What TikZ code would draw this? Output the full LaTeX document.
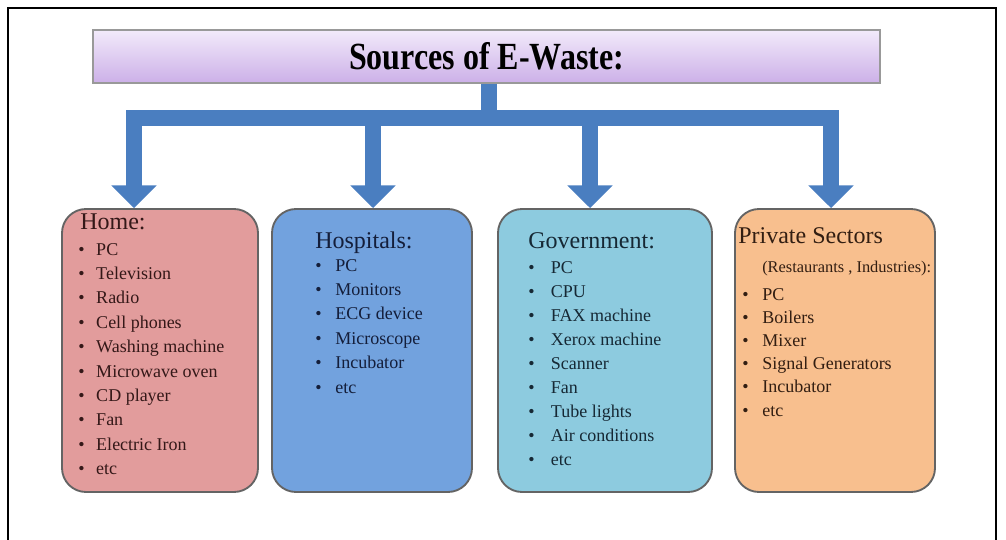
\documentclass[tikz,border=0pt]{standalone}
\usepackage{fontspec}
\setmainfont{Liberation Serif}
\usetikzlibrary{positioning,arrows.meta,fit}
\definecolor{pipecolor}{RGB}{74,126,192}
\definecolor{homefill}{RGB}{226,156,156}
\definecolor{hospfill}{RGB}{114,162,222}
\definecolor{govfill}{RGB}{141,203,223}
\definecolor{privfill}{RGB}{248,191,142}
\definecolor{edgecolor}{RGB}{100,100,100}
\definecolor{hometext}{RGB}{52,24,24}
\definecolor{hosptext}{RGB}{20,30,58}
\definecolor{govtext}{RGB}{22,40,52}
\definecolor{privtext}{RGB}{50,30,18}

\begin{document}
\begin{tikzpicture}[x=0.75pt, y=-0.75pt,
    srcbox/.style={rectangle, draw=edgecolor, line width=1.4pt, rounded corners=18pt, inner sep=0pt},
    titlebox/.style={rectangle, draw=black!40, line width=1.2pt, inner sep=0pt,
        top color={rgb,255:red,242;green,234;blue,250}, bottom color={rgb,255:red,204;green,176;blue,232}},
    pipe/.style={draw=pipecolor, line width=11.5pt},
    flow/.style={pipe, -{Triangle[width=33pt,length=17pt]}},
    head/.style={font=\fontsize{18}{20}\selectfont, anchor=base west, inner sep=0pt},
    entry/.style={font=\fontsize{13.5}{16}\selectfont, anchor=base west, inner sep=0pt}
]
\useasboundingbox (0,0) rectangle (1006,539);
\draw[line width=2pt] (8,560) -- (8,8) -- (996,8) -- (996,560);

% title
\node[titlebox, fit={(93,30) (880,83)}] (title) {};
\node[font=\fontsize{24}{28}\selectfont\bfseries] (title-text) at (title.center) {\scalebox{1}[1.2]{Sources of E-Waste:}};

% source boxes
\node[srcbox, fill=homefill, fit={(62,209) (258,492)}] (home) {};
\node[srcbox, fill=hospfill, fit={(272,209) (472,492)}] (hosp) {};
\node[srcbox, fill=govfill, fit={(498,209) (712,492)}] (gov) {};
\node[srcbox, fill=privfill, fit={(735,209) (935,492)}] (priv) {};

% connectors
\coordinate (hub) at (489,118);
\draw[pipe] (title.south -| hub) -- (hub);
\draw[flow] (hub) -| (home.north -| 134,0);
\draw[flow] (hub) -| (hosp.north -| 373,0);
\draw[flow] (hub) -| (gov.north -| 590,0);
\draw[flow] (hub) -| (priv.north -| 831,0);

% Home
\node[head, text=hometext] (home-head) at (80,229) {Home:};
\foreach \name [count=\i] in {PC,Television,Radio,Cell phones,Washing machine,Microwave oven,CD player,Fan,Electric Iron,etc}
  \node[entry, text=hometext] (home-\i) at (78,{255+24.4*(\i-1)}) {\makebox[13.5pt][l]{\textbullet}\name};

% Hospitals
\node[head, text=hosptext] (hosp-head) at (315,248) {Hospitals:};
\foreach \name [count=\i] in {PC,Monitors,ECG device,Microscope,Incubator,etc}
  \node[entry, text=hosptext] (hosp-\i) at (315,{271+24.4*(\i-1)}) {\makebox[15pt][l]{\textbullet}\name};

% Government
\node[head, text=govtext] (gov-head) at (528,248) {Government:};
\foreach \name [count=\i] in {PC,CPU,FAX machine,Xerox machine,Scanner,Fan,Tube lights,Air conditions,etc}
  \node[entry, text=govtext] (gov-\i) at (528,{273+24.1*(\i-1)}) {\makebox[17pt][l]{\textbullet}\name};

% Private Sectors
\node[head, text=privtext] (priv-head) at (738,243) {Private Sectors};
\node[entry, font=\fontsize{12.3}{14}\selectfont, text=privtext] (priv-sub) at (762,272) {(Restaurants , Industries):};
\foreach \name [count=\i] in {PC,Boilers,Mixer,Signal Generators,Incubator,etc}
  \node[entry, text=privtext] (priv-\i) at (742,{300+23.2*(\i-1)}) {\makebox[15pt][l]{\textbullet}\name};
\end{tikzpicture}
\end{document}
